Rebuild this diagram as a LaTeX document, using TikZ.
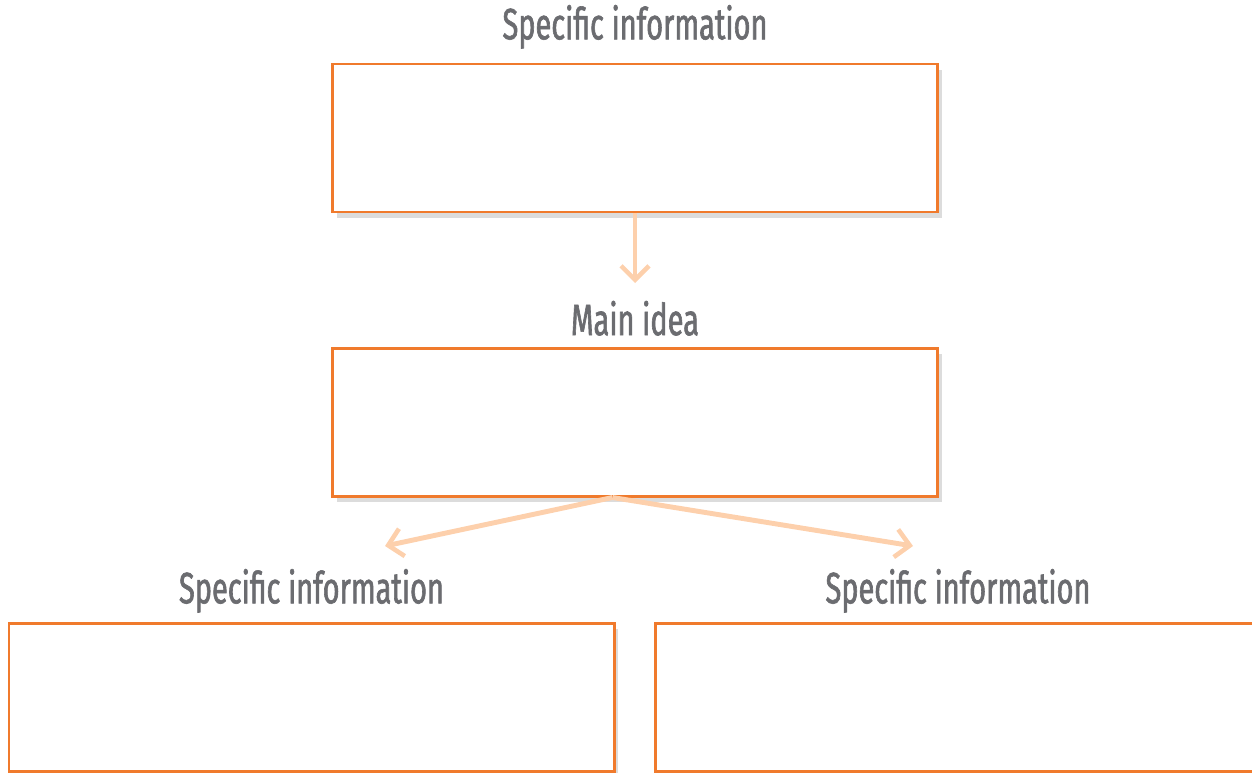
\documentclass[tikz,border=0pt]{standalone}
\usepackage{fontspec}
\usepackage{xcolor}
\usetikzlibrary{positioning,shadows,arrows.meta}
\newfontfamily\handfont[FakeStretch=0.66,FakeBold=1.4]{Fira Sans}
\definecolor{boxorange}{HTML}{F07A2C}
\definecolor{linkorange}{HTML}{FDD0AC}
\definecolor{labelgray}{HTML}{6B6C70}
\begin{document}
\begin{tikzpicture}[x=1cm,y=1cm,
  infobox/.style={draw=boxorange,line width=1.7pt,fill=white,minimum width=12.1cm,minimum height=2.96cm,inner sep=0pt,
    drop shadow={shadow xshift=2.5pt,shadow yshift=-3.5pt,opacity=0.28,fill=gray}},
  boxlabel/.style={font=\handfont\fontsize{25}{30}\selectfont,text=labelgray,inner sep=2pt},
  link/.style={draw=linkorange,line width=2.8pt,-{Straight Barb[length=0.28cm,width=0.56cm,line width=2.6pt]}}]
\useasboundingbox (0,0) rectangle (25.04,-15.44);
\node[infobox] (specTop) at (12.7,-2.76) {};
\node[infobox] (mainBox) at (12.7,-8.44) {};
\node[infobox] (specLeft) at (6.23,-13.94) {};
\node[infobox] (specRight) at (19.16,-13.94) {};
\node[boxlabel,above=0.2cm of specTop] (specTopLbl) {Specific information};
\node[boxlabel,above=0.14cm of mainBox] (mainLbl) {Main idea};
\node[boxlabel,above=0.1cm of specLeft] (specLeftLbl) {Specific information};
\node[boxlabel,above=0.1cm of specRight] (specRightLbl) {Specific information};
\coordinate (forkPt) at ([xshift=-0.45cm]mainBox.south);
\coordinate (tipTop) at (12.7,-5.66);
\coordinate (tipLeft) at (7.7,-10.92);
\coordinate (tipRight) at (18.26,-10.92);
\draw[link] (specTop.south) -- (tipTop);
\draw[link] (forkPt) -- (tipLeft);
\draw[link] (forkPt) -- (tipRight);
\end{tikzpicture}
\end{document}
